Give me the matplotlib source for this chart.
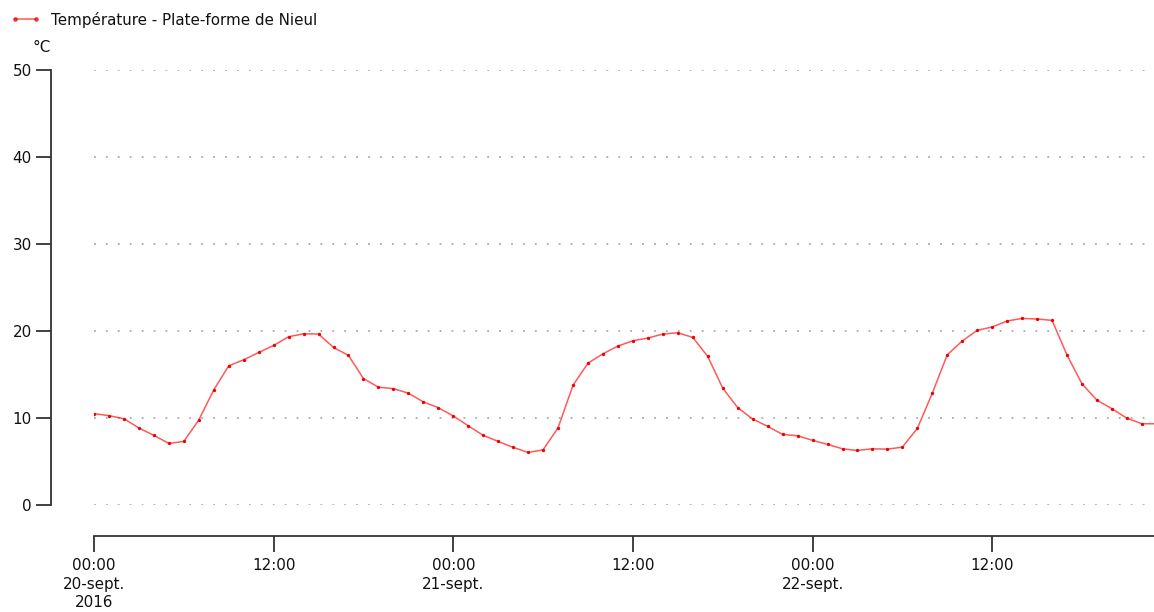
import numpy as np
import matplotlib
matplotlib.use("Agg")
import matplotlib.pyplot as plt
from matplotlib.transforms import ScaledTranslation

# Hourly air temperature, 20-sept. 2016 00:00 to 22-sept. 23:00
hours = list(range(72))
temperature = [
    10.5, 10.27, 9.92, 8.85, 8.0, 7.08, 7.31, 9.77, 13.23, 16.0, 16.69, 17.53,
    18.34, 19.34, 19.68, 19.65, 18.11, 17.19, 14.53, 13.54, 13.38, 12.85, 11.85, 11.19,
    10.23, 9.11, 8.0, 7.31, 6.62, 6.04, 6.34, 8.88, 13.77, 16.31, 17.38, 18.27,
    18.88, 19.19, 19.65, 19.80, 19.26, 17.07, 13.43, 11.19, 9.88, 9.04, 8.11, 7.96,
    7.43, 6.97, 6.46, 6.27, 6.46, 6.42, 6.65, 8.81, 12.85, 17.27, 18.85, 20.08,
    20.46, 21.15, 21.45, 21.38, 21.22, 17.23, 13.92, 12.04, 11.07, 9.97, 9.34, 9.34,
]
series_label = "Température - Plate-forme de Nieul"
unit_label = "°C"
x_tick_hours = [0, 12, 24, 36, 48, 60]
x_tick_labels = ["00:00\n20-sept.\n2016", "12:00", "00:00\n21-sept.", "12:00",
                 "00:00\n22-sept.", "12:00"]
y_ticks = [0, 10, 20, 30, 40, 50]

W, H = 1154, 612
PX = 72 / 100  # points per pixel at 100 dpi
fig = plt.figure(figsize=(W / 100, H / 100), dpi=100)
# plot area in pixels: x 94..1154, y 70..505
ax = fig.add_axes([94 / W, 1 - 505 / H, (W - 94) / W, (505 - 70) / H])

axis_col = "#333333"
fs = 10.9

ax.plot(hours, temperature, color="#ff0000", alpha=0.65, lw=1.1, zorder=3)
ax.plot(hours, temperature, ls="none", marker="o", ms=2.4, mec="none",
        color="#ee0000", zorder=4)

ax.set_xlim(0, (W - 94) / 14.97)
ax.set_ylim(0, 50)

ax.set_yticks(y_ticks)
ax.set_xticks(x_tick_hours)
ax.set_xticklabels([""] * len(x_tick_hours))
ax.tick_params(axis="y", labelsize=fs, length=15 * PX, width=1.3, color=axis_col,
               labelcolor="#111111", pad=3)
ax.tick_params(axis="x", length=16 * PX, width=1.3, color=axis_col, pad=4)

# multi-line date labels under the detached time axis
label_tf = ax.get_xaxis_transform() + ScaledTranslation(0, -53 / 100,
                                                        fig.dpi_scale_trans)
for hx, lab in zip(x_tick_hours, x_tick_labels):
    ax.text(hx, 0, lab, transform=label_tf, ha="center", va="top",
            fontsize=fs, color="#111111", linespacing=1.3, clip_on=False)

ax.grid(axis="y", ls=(0, (1, 5.6)), color="#aaaaaa", lw=1.3)
ax.grid(axis="x", visible=False)

for s in ("top", "right"):
    ax.spines[s].set_visible(False)
ax.spines["left"].set_position(("outward", 43 * PX))
ax.spines["left"].set_bounds(0, 50)
ax.spines["bottom"].set_position(("outward", 31 * PX))
ax.spines["bottom"].set_bounds(0, ax.get_xlim()[1])
for s in ("left", "bottom"):
    ax.spines[s].set_color(axis_col)
    ax.spines[s].set_linewidth(1.3)

fig.text(33 / W, 1 - 47 / H, unit_label, fontsize=fs, color="#111111",
         ha="left", va="center")

line_h, = ax.plot([], [], color="#ff0000", alpha=0.65, lw=1.1, marker="o",
                  ms=2.4, mec="#ee0000", mfc="#ee0000")
fig.legend([line_h], [series_label], loc="upper left",
           bbox_to_anchor=(0 / W, 1 - 1 / H), frameon=False, fontsize=fs,
           numpoints=2, handlelength=2.0, handletextpad=0.65, borderpad=0.2,
           labelcolor="#111111")

fig.savefig("out.png", dpi=100)
